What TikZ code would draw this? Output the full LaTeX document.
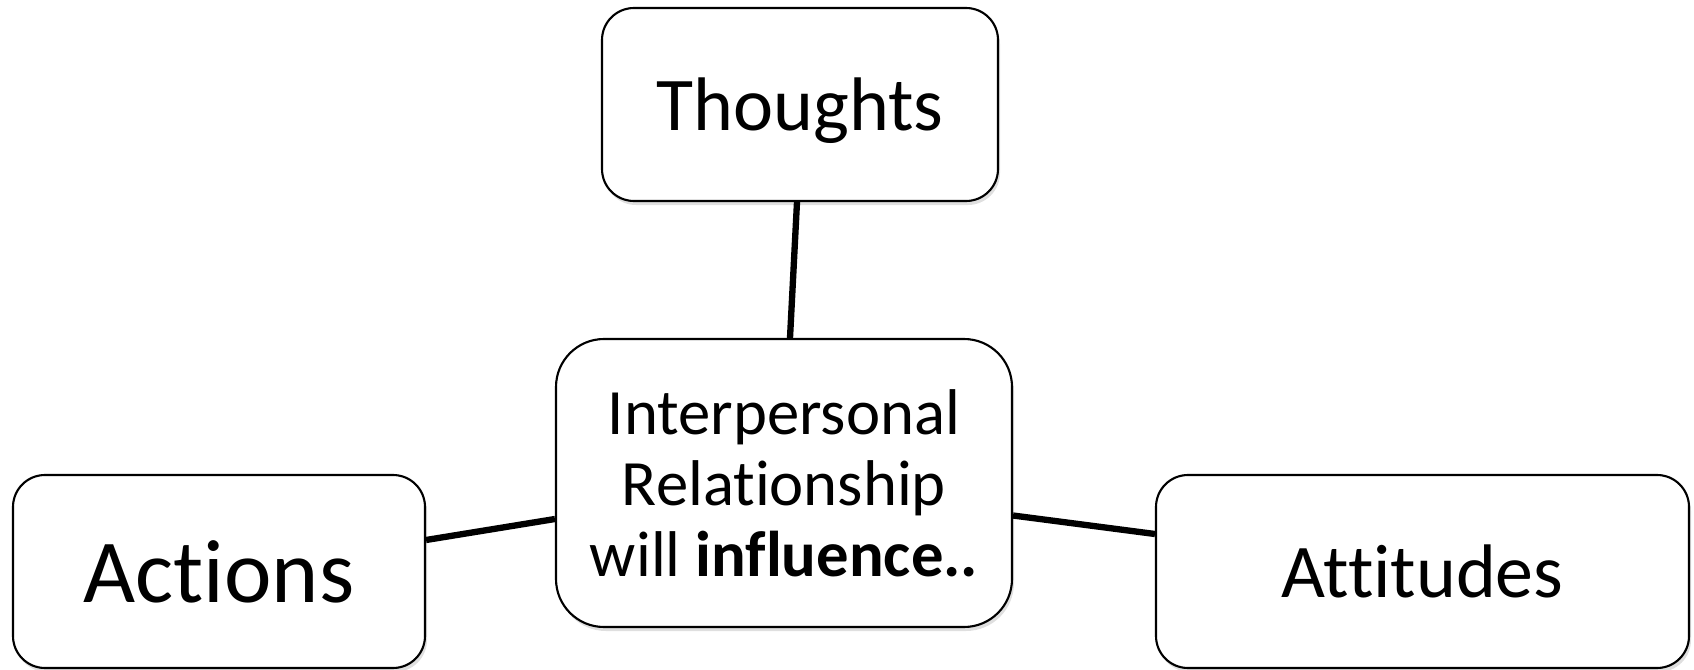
\documentclass[tikz,border=0pt]{standalone}
\usepackage{fontspec}
\setmainfont{Carlito}[Ligatures=NoCommon]
\usetikzlibrary{shadows}

\begin{document}
\begin{tikzpicture}[
        box/.style={draw, line width=0.6pt, fill=white, rounded corners=#1,
            inner sep=0pt, align=center,
            drop shadow={opacity=0.25, shadow xshift=0.02cm, shadow yshift=-0.04cm}},
        link/.style={line width=1.8pt}
    ]
        % fix the page size
        \useasboundingbox (0,0) rectangle (16.94,6.69);

        % the middle box
        \node[box=0.48cm, minimum width=4.56cm, minimum height=2.88cm,
            font=\fontsize{18.4}{20.2}\selectfont] (inter) at (7.84,1.86)
            {Interpersonal\\Relationship\\will \textbf{influence..}};

        % the three outer boxes
        \node[box=0.32cm, minimum width=3.96cm, minimum height=1.93cm, text depth=0pt,
            font=\fontsize{21.6}{24}\selectfont] (thoughts) at (8.00,5.645) {Thoughts};
        \node[box=0.32cm, minimum width=4.12cm, minimum height=1.93cm,
            font=\fontsize{25.6}{28}\selectfont] (actions) at (2.19,0.975) {Actions};
        \node[box=0.32cm, minimum width=5.33cm, minimum height=1.93cm,
            font=\fontsize{21.6}{24}\selectfont] (attitudes) at (14.225,0.975) {Attitudes};

        % connections to the middle box
        \draw[link] ([xshift=-0.03cm]thoughts.south) -- ([xshift=0.06cm]inter.north);
        \draw[link] ([yshift=0.315cm]actions.east) -- ([yshift=-0.36cm]inter.west);
        \draw[link] ([yshift=-0.325cm]inter.east) -- ([yshift=0.375cm]attitudes.west);

      \end{tikzpicture}
\end{document}
